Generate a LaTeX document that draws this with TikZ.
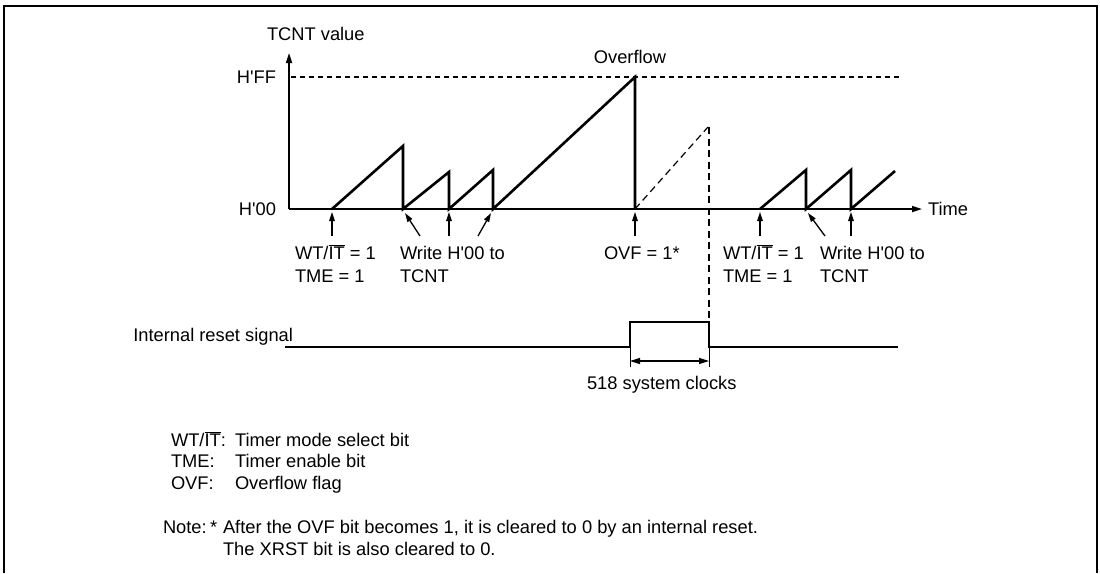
\documentclass[tikz,border=0pt]{standalone}
\usepackage{fontspec}
\setmainfont{Liberation Sans}[Ligatures=TeXOff]
\usetikzlibrary{arrows.meta}
\tikzset{
  lbl/.style={inner sep=0pt, outer sep=0pt},
  axis/.style={line width=1.6pt, -{Triangle[length=10pt,width=6pt]}},
  saw/.style={line width=2.6pt, line join=miter},
  ann/.style={line width=1.3pt, -{Triangle[length=9pt,width=5.5pt]}},
  dsh/.style={line width=1.2pt, dash pattern=on 7pt off 4.5pt},
  frame/.style={line width=2.6pt},
}
\newcommand{\wtit}{WT/$\overline{\hbox{IT}}$}
\begin{document}
\begin{tikzpicture}[x=1pt,y=-1pt,font=\fontsize{18.3}{22}\selectfont]
\useasboundingbox (0,0) rectangle (1100,573);
% frame
\draw[frame] (4,573) -- (4,6) -- (1097,6) -- (1097,573);

% axes
\coordinate (O) at (289,209);
\coordinate (Ytop) at (289,53);
\coordinate (Xend) at (922,209);
\draw[axis] (O) -- (Ytop);
\draw[axis] (O) -- (Xend);
\node[lbl, anchor=base west] (tcnt) at (267,40) {TCNT value};
\node[lbl, anchor=base east] (hff) at (276,83.5) {H'FF};
\node[lbl, anchor=base east] (h00) at (276,215.5) {H'00};
\node[lbl, anchor=base west] (time) at (928,215.5) {Time};
\node[lbl, anchor=base] (ovfl) at (630,63) {Overflow};

% H'FF dashed level
\coordinate (ffa) at (291,77);
\coordinate (ffb) at (901,77);
\draw[line width=1.1pt, dash pattern=on 5pt off 4pt] (ffa) -- (ffb);

% sawtooth
\coordinate (s0) at (332,209);
\coordinate (p1) at (403,146);
\coordinate (b1) at (403,209);
\coordinate (p2) at (449,172);
\coordinate (b2) at (449,209);
\coordinate (p3) at (493,170);
\coordinate (b3) at (493,209);
\coordinate (p4) at (635,77);
\coordinate (b4) at (635,209);
\draw[saw] (s0) -- (p1) -- (b1) -- (p2) -- (b2) -- (p3) -- (b3) -- (p4) -- (b4);

% dashed continuation and reset marker
\coordinate (dtop) at (708,127);
\coordinate (rtop) at (709,322);
\draw[dsh] (b4) -- (dtop);
\draw[dsh] (709,127) -- (rtop);

% right sawtooth
\coordinate (r0) at (760,209);
\coordinate (q1) at (806,170);
\coordinate (c1) at (806,209);
\coordinate (q2) at (851,170);
\coordinate (c2) at (851,209);
\coordinate (q3) at (895,171);
\draw[saw] (r0) -- (q1) -- (c1) -- (q2) -- (c2) -- (q3);

% annotation arrows
\coordinate (t1) at (332,236);  \coordinate (h1) at (332,212);
\coordinate (t2) at (420,236);  \coordinate (h2) at (405,213);
\coordinate (t3) at (449,236);  \coordinate (h3) at (449,212);
\coordinate (t4) at (478,236);  \coordinate (h4) at (491,213);
\coordinate (t5) at (635,236);  \coordinate (h5) at (635,212);
\coordinate (t6) at (760,236);  \coordinate (h6) at (760,212);
\coordinate (t7) at (825,236);  \coordinate (h7) at (808,213);
\coordinate (t8) at (851,236);  \coordinate (h8) at (851,212);
\foreach \i in {1,...,8} \draw[ann] (t\i) -- (h\i);

% labels under axis
\node[lbl, anchor=base west] (l1a) at (295,259) {\wtit\ = 1};
\node[lbl, anchor=base west] (l1b) at (295,282) {TME = 1};
\node[lbl, anchor=base west] (l2a) at (400,259) {Write H'00 to};
\node[lbl, anchor=base west] (l2b) at (400,282) {TCNT};
\node[lbl, anchor=base west] (l3) at (604,259) {OVF = 1*};
\node[lbl, anchor=base west] (l4a) at (723,259) {\wtit\ = 1};
\node[lbl, anchor=base west] (l4b) at (723,282) {TME = 1};
\node[lbl, anchor=base west] (l5a) at (820,259) {Write H'00 to};
\node[lbl, anchor=base west] (l5b) at (820,282) {TCNT};

% internal reset signal
\node[lbl, anchor=base east] (irs) at (293,341) {Internal reset signal};
\coordinate (w0) at (285,347);
\coordinate (w1) at (630,347);
\coordinate (w2) at (630,322);
\coordinate (w4) at (709,347);
\coordinate (w5) at (898,347);
\draw[saw] (w0) -- (w1) -- (w2) -- (rtop) -- (w4) -- (w5);

% dimension
\coordinate (k1) at (630,367);
\coordinate (k2) at (709,367);
\coordinate (m1) at (630,361);
\coordinate (m2) at (709,361);
\draw[line width=1pt] (w1) -- (k1);
\draw[line width=1pt] (w4) -- (k2);
\draw[line width=1.2pt, {Triangle[length=10pt,width=6pt]}-{Triangle[length=10pt,width=6pt]}] (m1) -- (m2);
\node[lbl, anchor=base west] (clk) at (587,389) {518 system clocks};

% legend
\node[lbl, anchor=base west] (g1) at (171,446) {\wtit:};
\node[lbl, anchor=base west] (g2) at (171,467) {TME:};
\node[lbl, anchor=base west] (g3) at (171,489) {OVF:};
\node[lbl, anchor=base west] (d1) at (235,446) {Timer mode select bit};
\node[lbl, anchor=base west] (d2) at (235,467) {Timer enable bit};
\node[lbl, anchor=base west] (d3) at (235,489) {Overflow flag};

% note
\node[lbl, anchor=base west] (n0) at (163,533) {Note:};
\node[lbl, anchor=base west] (n1) at (210,533) {*};
\node[lbl, anchor=base west] (n2) at (223,533) {After the OVF bit becomes 1, it is cleared to 0 by an internal reset.};
\node[lbl, anchor=base west] (n3) at (223,555) {The XRST bit is also cleared to 0.};
\end{tikzpicture}
\end{document}
